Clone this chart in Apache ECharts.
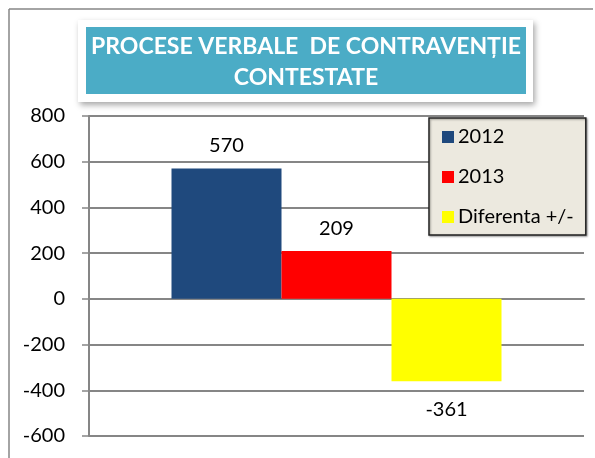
<!DOCTYPE html>
<html>
<head>
<meta charset="utf-8">
<script src="https://cdn.jsdelivr.net/npm/echarts@6/dist/echarts.min.js"></script>
<style>
  html, body { margin: 0; padding: 0; background: #fff; }
  #chart { width: 595px; height: 458px; }
</style>
</head>
<body>
<div id="chart"></div>
<script>
// date
var categories = [''];
var seriesNames = ['2012', '2013', 'Diferenta +/-'];
var values2012 = [570];
var values2013 = [209];
var valuesDiff = [-361];
var seriesColors = ['#1f497d', '#ff0000', '#ffff00'];
var titleLines = ['PROCESE VERBALE  DE CONTRAVENȚIE', 'CONTESTATE'];

var font = 'Lato';
var gridColor = '#868686';

var chart = echarts.init(document.getElementById('chart'));

function barSeries(i, data, pos, dist) {
    return {
        name: seriesNames[i],
        type: 'bar',
        barWidth: 110,
        barGap: '0%',
        itemStyle: { color: seriesColors[i] },
        label: {
            show: true,
            position: pos,
            distance: dist,
            color: '#000',
            fontFamily: font,
            fontSize: 20
        },
        data: data
    };
}

var option = {
    animation: false,
    backgroundColor: '#fff',
    grid: { left: 89, right: 11, top: 116, bottom: 22 },
    legend: {
        orient: 'vertical',
        left: 429,
        top: 118,
        padding: [9, 12, 8, 13],
        itemGap: 20,
        itemWidth: 12,
        itemHeight: 12,
        icon: 'rect',
        backgroundColor: '#ece9df',
        borderColor: '#222',
        borderWidth: 1.5,
        shadowColor: 'rgba(0,0,0,0.35)',
        shadowBlur: 2,
        shadowOffsetX: 1,
        shadowOffsetY: 1,
        textStyle: { fontFamily: font, fontSize: 20, color: '#000', padding: [0, 0, 0, -1] },
        data: seriesNames
    },
    xAxis: {
        type: 'category',
        data: categories,
        axisLine: { onZero: true, lineStyle: { color: gridColor, width: 2 } },
        axisTick: { show: false },
        axisLabel: { show: false }
    },
    yAxis: {
        type: 'value',
        min: -600,
        max: 800,
        interval: 200,
        axisLine: { show: true, lineStyle: { color: gridColor, width: 2 } },
        axisTick: { show: true, length: 7, lineStyle: { color: gridColor, width: 1.5 } },
        splitLine: { lineStyle: { color: gridColor, width: 2 } },
        axisLabel: { fontFamily: font, fontSize: 20, color: '#000', margin: 24 }
    },
    graphic: [
        // rama exterioara
        { type: 'line', shape: { x1: 9, y1: 9, x2: 593, y2: 9 }, style: { stroke: gridColor, lineWidth: 1.5 }, silent: true },
        { type: 'line', shape: { x1: 9, y1: 9, x2: 9, y2: 458 }, style: { stroke: gridColor, lineWidth: 1.5 }, silent: true },
        // caseta titlului
        {
            type: 'rect', shape: { x: 78, y: 20, width: 455, height: 82 },
            style: { fill: '#fff', shadowColor: 'rgba(0,0,0,0.35)', shadowBlur: 6, shadowOffsetX: 2, shadowOffsetY: 3 },
            silent: true, z: 10
        },
        {
            type: 'rect', shape: { x: 86, y: 27, width: 440, height: 67 },
            style: { fill: '#4bacc6' }, silent: true, z: 11
        },
        {
            type: 'text', x: 306, y: 47, z: 12,
            style: { text: titleLines[0], fill: '#fff', font: 'bold 23px Lato', align: 'center', verticalAlign: 'middle' }
        },
        {
            type: 'text', x: 306, y: 78, z: 12,
            style: { text: titleLines[1], fill: '#fff', font: 'bold 23px Lato', align: 'center', verticalAlign: 'middle' }
        }
    ],
    series: [
        barSeries(0, values2012, 'top', 13),
        barSeries(1, values2013, 'top', 13),
        barSeries(2, valuesDiff, 'bottom', 18)
    ]
};

chart.setOption(option);
</script>
</body>
</html>
